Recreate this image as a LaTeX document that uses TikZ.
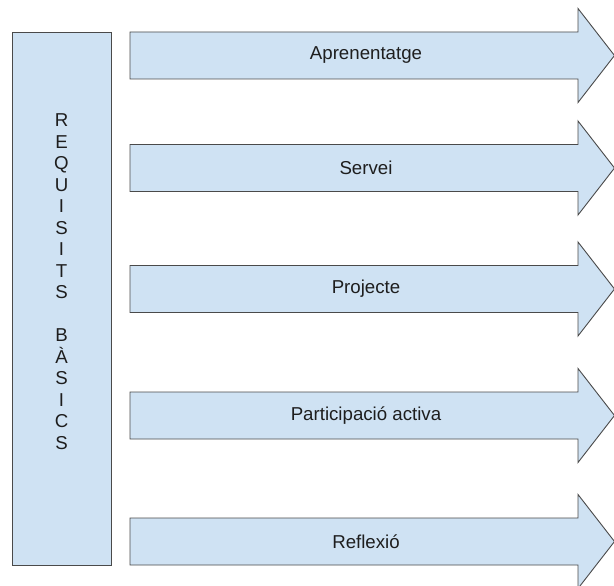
\documentclass[tikz,border=0pt]{standalone}
\usepackage{fontspec}
\setmainfont{Liberation Sans}
\definecolor{boxfill}{HTML}{CFE2F3}
\definecolor{boxline}{HTML}{4A4A4A}
\definecolor{txt}{HTML}{1E1E1E}
\tikzset{
  shapebox/.style={fill=boxfill, draw=boxline, line width=0.9pt, line join=miter},
  lbl/.style={text=txt, inner sep=0pt, font=\fontsize{18.67}{21.5}\selectfont},
}
\newcommand{\bigarrow}[3]{% #1 centre y, #2 name, #3 label
  \draw[shapebox] (130,#1-23.5) -- (578,#1-23.5) -- (578,#1-47) -- (614.5,#1)
     -- (578,#1+47) -- (578,#1+23.5) -- (130,#1+23.5) -- cycle;
  \node[lbl] (#2) at (366,#1) {#3};
}
\begin{document}
\begin{tikzpicture}[x=1pt,y=-1pt]
\useasboundingbox (0,0) rectangle (614,586);
\clip (0,0) rectangle (614,586);
\fill[white] (0,0) rectangle (614,586);
\draw[shapebox] (12,32) rectangle (111,565);
\node[lbl, align=center, anchor=north] (req) at (61.5,113.5)
  {R\\E\\Q\\U\\I\\S\\I\\T\\S\\\mbox{}\\B\\À\\S\\I\\C\\S};
\bigarrow{55.5}{apr}{Aprenentatge}
\bigarrow{168}{ser}{Servei}
\bigarrow{289}{pro}{Projecte}
\bigarrow{415.5}{par}{Participació activa}
\bigarrow{541.5}{ref}{Reflexió}
\end{tikzpicture}
\end{document}
